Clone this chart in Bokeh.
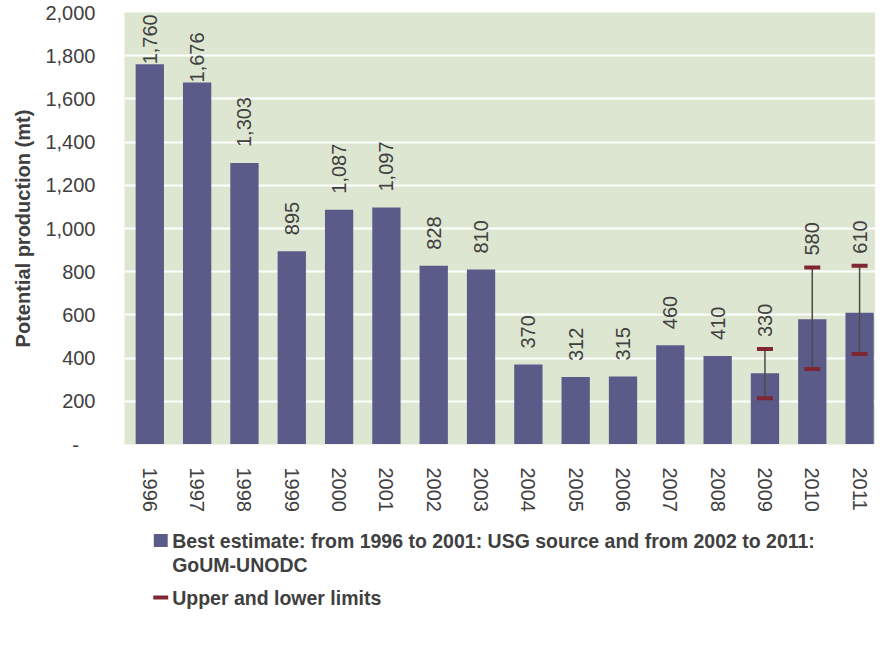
import numpy as np
from bokeh.plotting import figure
from bokeh.models import ColumnDataSource, FixedTicker, Range1d, Title
from bokeh.layouts import column
from bokeh.embed import file_html
from bokeh.resources import INLINE
from bokeh.core.properties import value

# ---- data ----
years = ["1996", "1997", "1998", "1999", "2000", "2001", "2002", "2003",
         "2004", "2005", "2006", "2007", "2008", "2009", "2010", "2011"]
best = [1760, 1676, 1303, 895, 1087, 1097, 828, 810,
        370, 312, 315, 460, 410, 330, 580, 610]
err_years = ["2009", "2010", "2011"]
lower = [214, 349, 419]
upper = [442, 819, 828]
y_ticks = [0, 200, 400, 600, 800, 1000, 1200, 1400, 1600, 1800, 2000]
y_title = "Potential production (mt)"
legend_best = ["Best estimate: from 1996 to 2001: USG source and from 2002 to 2011:",
               "GoUM-UNODC"]
legend_err = "Upper and lower limits"

# ---- style ----
FONT = "Liberation Sans"
TXT = "#404040"
BAR = "#5B5B8A"
BG = "#DDE6D0"
CAP = "#7E2631"
ERR_LINE = "#4A4A4A"

W = 875
LEFT = 119
H_MAIN = 522
H_LEG = 126
Y_MAX = 2000
FRAME_H = H_MAIN - 12 - 78

idx = list(range(len(years)))
labels = [f"{v:,}" for v in best]

# label anchors: bar top, or upper limit where an error bar exists
anchor = list(best)
offs = []
for y, u in zip(err_years, upper):
    anchor[years.index(y)] = u
ppu = FRAME_H / Y_MAX
for i, (a, t) in enumerate(zip(anchor, labels)):
    ext = 0.556 * 20 * len(t.replace(",", "")) + 0.278 * 20 * t.count(",")
    if years[i] in err_years:
        offs.append(-12)
    elif a * ppu + 16 + ext > FRAME_H - 22:
        offs.append(0)
    else:
        offs.append(-16)

src = ColumnDataSource(dict(x=idx, top=best, ly=anchor, lab=labels, off=offs))
eidx = [years.index(y) for y in err_years]
esrc = ColumnDataSource(dict(x=eidx, lo=lower, hi=upper))

p = figure(width=W, height=H_MAIN,
           x_range=Range1d(-0.535, 15.336), y_range=Range1d(0, Y_MAX),
           output_backend="svg", toolbar_location=None,
           min_border_left=LEFT, min_border_right=0,
           min_border_top=12, min_border_bottom=78)
p.background_fill_color = BG
p.border_fill_color = "white"
p.outline_line_color = None

p.vbar(x="x", top="top", width=0.598, source=src, fill_color=BAR, line_color=None)
p.segment(x0="x", y0="lo", x1="x", y1="hi", source=esrc,
          line_color=ERR_LINE, line_width=1.5)
p.rect(x=eidx + eidx, y=lower + upper, width=16, height=4,
       width_units="screen", height_units="screen",
       fill_color=CAP, line_color=None)
p.text(x="x", y="ly", text="lab", source=src, angle=np.pi / 2,
       y_offset="off", text_align="left", text_baseline="middle",
       text_font=value(FONT), text_font_size=value("20px"), text_color=TXT)

# axes
p.xaxis.ticker = FixedTicker(ticks=idx)
p.xaxis.major_label_overrides = {i: y for i, y in enumerate(years)}
p.xaxis.major_label_orientation = "vertical"
p.xaxis.axis_line_color = "#EEF2E8"
p.xaxis.major_tick_line_color = None
p.xaxis.minor_tick_line_color = None
p.xaxis.major_label_standoff = 17
p.xaxis.major_label_text_font = FONT
p.xaxis.major_label_text_font_size = "20px"
p.xaxis.major_label_text_color = TXT

p.yaxis.ticker = FixedTicker(ticks=y_ticks)
p.yaxis.major_label_overrides = {t: (f"{t:,}" if t else "-\u00a0\u00a0\u00a0") for t in y_ticks}
p.yaxis.axis_line_color = None
p.yaxis.major_tick_line_color = None
p.yaxis.minor_tick_line_color = None
p.yaxis.major_label_standoff = 23
p.yaxis.major_label_text_font = FONT
p.yaxis.major_label_text_font_size = "20px"
p.yaxis.major_label_text_color = TXT

p.add_layout(Title(text=y_title, align="center", offset=23, standoff=18,
                   text_font=FONT, text_font_size="20px", text_font_style="bold",
                   text_color=TXT), "left")

p.xgrid.visible = False
p.ygrid.ticker = FixedTicker(ticks=y_ticks)
p.ygrid.grid_line_color = "white"
p.ygrid.grid_line_width = 2

# ---- legend panel (x in figure pixels) ----
lg = figure(width=W, height=H_LEG, x_range=Range1d(LEFT, W), y_range=Range1d(H_LEG, 0),
            output_backend="svg", toolbar_location=None,
            min_border_left=LEFT, min_border_right=0, min_border_top=0, min_border_bottom=0)
lg.axis.visible = False
lg.grid.visible = False
lg.outline_line_color = None
lg.background_fill_color = "white"
lg.border_fill_color = "white"

lg.rect(x=[155.5], y=[18], width=14, height=13, fill_color=BAR, line_color=None)
lg.rect(x=[155.5], y=[75], width=15, height=4, fill_color=CAP, line_color=None)
lg.text(x=[167, 167, 167], y=[18, 42, 75], text=legend_best + [legend_err],
        text_align="left", text_baseline="middle",
        text_font=value(FONT), text_font_size=value("19.5px"),
        text_font_style="bold", text_color=TXT)

layout = column(p, lg, spacing=0)
open("out.html", "w").write(file_html(layout, INLINE))
